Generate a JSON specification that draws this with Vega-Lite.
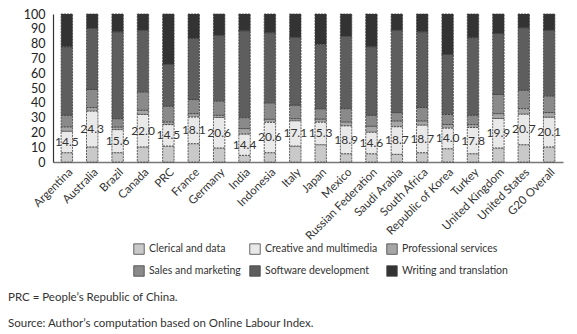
{
  "$schema": "https://vega.github.io/schema/vega-lite/v6.json",
  "autosize": "none",
  "width": 510,
  "height": 148,
  "padding": {"left": 53, "top": 14, "right": 14, "bottom": 172},
  "background": "white",
  "config": {
    "font": "Lato",
    "view": {"stroke": null},
    "axisY": {
      "title": null,
      "values": [0, 10, 20, 30, 40, 50, 60, 70, 80, 90, 100],
      "labelOverlap": false,
      "grid": false,
      "ticks": false,
      "labelFontSize": 12.5,
      "labelColor": "#222",
      "labelFont": "Lato",
      "labelPadding": 8,
      "domainColor": "#333",
      "domainWidth": 1.2
    }
  },
  "title": {
    "text": ["PRC = People’s Republic of China.", "Source: Author’s computation based on Online Labour Index."],
    "orient": "bottom",
    "anchor": "start",
    "frame": "group",
    "dx": -45,
    "offset": 14,
    "fontSize": 11.5,
    "fontWeight": "normal",
    "color": "#333",
    "lineHeight": 26,
    "font": "Lato"
  },
  "data": {
    "values": [
      {"country": "Argentina", "category": "Clerical and data", "value": 6.3},
      {"country": "Argentina", "category": "Creative and multimedia", "value": 14.5},
      {"country": "Argentina", "category": "Professional services", "value": 3.0},
      {"country": "Argentina", "category": "Sales and marketing", "value": 7.8},
      {"country": "Argentina", "category": "Software development", "value": 46.3},
      {"country": "Argentina", "category": "Writing and translation", "value": 22.1},
      {"country": "Australia", "category": "Clerical and data", "value": 10.2},
      {"country": "Australia", "category": "Creative and multimedia", "value": 24.3},
      {"country": "Australia", "category": "Professional services", "value": 2.3},
      {"country": "Australia", "category": "Sales and marketing", "value": 12.2},
      {"country": "Australia", "category": "Software development", "value": 41.3},
      {"country": "Australia", "category": "Writing and translation", "value": 9.7},
      {"country": "Brazil", "category": "Clerical and data", "value": 6.3},
      {"country": "Brazil", "category": "Creative and multimedia", "value": 15.6},
      {"country": "Brazil", "category": "Professional services", "value": 1.8},
      {"country": "Brazil", "category": "Sales and marketing", "value": 5.6},
      {"country": "Brazil", "category": "Software development", "value": 58.7},
      {"country": "Brazil", "category": "Writing and translation", "value": 12.0},
      {"country": "Canada", "category": "Clerical and data", "value": 10.2},
      {"country": "Canada", "category": "Creative and multimedia", "value": 22.0},
      {"country": "Canada", "category": "Professional services", "value": 2.8},
      {"country": "Canada", "category": "Sales and marketing", "value": 12.4},
      {"country": "Canada", "category": "Software development", "value": 41.8},
      {"country": "Canada", "category": "Writing and translation", "value": 10.8},
      {"country": "PRC", "category": "Clerical and data", "value": 10.8},
      {"country": "PRC", "category": "Creative and multimedia", "value": 14.5},
      {"country": "PRC", "category": "Professional services", "value": 1.8},
      {"country": "PRC", "category": "Sales and marketing", "value": 10.6},
      {"country": "PRC", "category": "Software development", "value": 28.4},
      {"country": "PRC", "category": "Writing and translation", "value": 33.9},
      {"country": "France", "category": "Clerical and data", "value": 12.4},
      {"country": "France", "category": "Creative and multimedia", "value": 18.1},
      {"country": "France", "category": "Professional services", "value": 2.2},
      {"country": "France", "category": "Sales and marketing", "value": 9.5},
      {"country": "France", "category": "Software development", "value": 41.3},
      {"country": "France", "category": "Writing and translation", "value": 16.5},
      {"country": "Germany", "category": "Clerical and data", "value": 9.5},
      {"country": "Germany", "category": "Creative and multimedia", "value": 20.6},
      {"country": "Germany", "category": "Professional services", "value": 1.5},
      {"country": "Germany", "category": "Sales and marketing", "value": 9.7},
      {"country": "Germany", "category": "Software development", "value": 44.5},
      {"country": "Germany", "category": "Writing and translation", "value": 14.2},
      {"country": "India", "category": "Clerical and data", "value": 4.5},
      {"country": "India", "category": "Creative and multimedia", "value": 14.4},
      {"country": "India", "category": "Professional services", "value": 3.7},
      {"country": "India", "category": "Sales and marketing", "value": 7.4},
      {"country": "India", "category": "Software development", "value": 58.7},
      {"country": "India", "category": "Writing and translation", "value": 11.3},
      {"country": "Indonesia", "category": "Clerical and data", "value": 6.3},
      {"country": "Indonesia", "category": "Creative and multimedia", "value": 20.6},
      {"country": "Indonesia", "category": "Professional services", "value": 2.0},
      {"country": "Indonesia", "category": "Sales and marketing", "value": 11.1},
      {"country": "Indonesia", "category": "Software development", "value": 47.4},
      {"country": "Indonesia", "category": "Writing and translation", "value": 12.6},
      {"country": "Italy", "category": "Clerical and data", "value": 10.8},
      {"country": "Italy", "category": "Creative and multimedia", "value": 17.1},
      {"country": "Italy", "category": "Professional services", "value": 1.4},
      {"country": "Italy", "category": "Sales and marketing", "value": 9.1},
      {"country": "Italy", "category": "Software development", "value": 45.8},
      {"country": "Italy", "category": "Writing and translation", "value": 15.8},
      {"country": "Japan", "category": "Clerical and data", "value": 11.7},
      {"country": "Japan", "category": "Creative and multimedia", "value": 15.3},
      {"country": "Japan", "category": "Professional services", "value": 2.0},
      {"country": "Japan", "category": "Sales and marketing", "value": 7.0},
      {"country": "Japan", "category": "Software development", "value": 43.6},
      {"country": "Japan", "category": "Writing and translation", "value": 20.4},
      {"country": "Mexico", "category": "Clerical and data", "value": 5.6},
      {"country": "Mexico", "category": "Creative and multimedia", "value": 18.9},
      {"country": "Mexico", "category": "Professional services", "value": 2.6},
      {"country": "Mexico", "category": "Sales and marketing", "value": 9.0},
      {"country": "Mexico", "category": "Software development", "value": 49.0},
      {"country": "Mexico", "category": "Writing and translation", "value": 14.9},
      {"country": "Russian Federation", "category": "Clerical and data", "value": 5.6},
      {"country": "Russian Federation", "category": "Creative and multimedia", "value": 14.6},
      {"country": "Russian Federation", "category": "Professional services", "value": 4.0},
      {"country": "Russian Federation", "category": "Sales and marketing", "value": 7.4},
      {"country": "Russian Federation", "category": "Software development", "value": 46.3},
      {"country": "Russian Federation", "category": "Writing and translation", "value": 22.1},
      {"country": "Saudi Arabia", "category": "Clerical and data", "value": 5.2},
      {"country": "Saudi Arabia", "category": "Creative and multimedia", "value": 18.7},
      {"country": "Saudi Arabia", "category": "Professional services", "value": 3.9},
      {"country": "Saudi Arabia", "category": "Sales and marketing", "value": 5.6},
      {"country": "Saudi Arabia", "category": "Software development", "value": 55.8},
      {"country": "Saudi Arabia", "category": "Writing and translation", "value": 10.8},
      {"country": "South Africa", "category": "Clerical and data", "value": 6.3},
      {"country": "South Africa", "category": "Creative and multimedia", "value": 18.7},
      {"country": "South Africa", "category": "Professional services", "value": 2.8},
      {"country": "South Africa", "category": "Sales and marketing", "value": 9.0},
      {"country": "South Africa", "category": "Software development", "value": 51.2},
      {"country": "South Africa", "category": "Writing and translation", "value": 12.0},
      {"country": "Republic of Korea", "category": "Clerical and data", "value": 9.0},
      {"country": "Republic of Korea", "category": "Creative and multimedia", "value": 14.0},
      {"country": "Republic of Korea", "category": "Professional services", "value": 2.3},
      {"country": "Republic of Korea", "category": "Sales and marketing", "value": 6.8},
      {"country": "Republic of Korea", "category": "Software development", "value": 40.6},
      {"country": "Republic of Korea", "category": "Writing and translation", "value": 27.3},
      {"country": "Turkey", "category": "Clerical and data", "value": 5.6},
      {"country": "Turkey", "category": "Creative and multimedia", "value": 17.8},
      {"country": "Turkey", "category": "Professional services", "value": 1.9},
      {"country": "Turkey", "category": "Sales and marketing", "value": 6.3},
      {"country": "Turkey", "category": "Software development", "value": 52.4},
      {"country": "Turkey", "category": "Writing and translation", "value": 16.0},
      {"country": "United Kingdom", "category": "Clerical and data", "value": 9.5},
      {"country": "United Kingdom", "category": "Creative and multimedia", "value": 19.9},
      {"country": "United Kingdom", "category": "Professional services", "value": 3.3},
      {"country": "United Kingdom", "category": "Sales and marketing", "value": 12.9},
      {"country": "United Kingdom", "category": "Software development", "value": 41.3},
      {"country": "United Kingdom", "category": "Writing and translation", "value": 13.1},
      {"country": "United States", "category": "Clerical and data", "value": 11.7},
      {"country": "United States", "category": "Creative and multimedia", "value": 20.7},
      {"country": "United States", "category": "Professional services", "value": 3.7},
      {"country": "United States", "category": "Sales and marketing", "value": 12.4},
      {"country": "United States", "category": "Software development", "value": 42.2},
      {"country": "United States", "category": "Writing and translation", "value": 9.3},
      {"country": "G20 Overall", "category": "Clerical and data", "value": 10.2},
      {"country": "G20 Overall", "category": "Creative and multimedia", "value": 20.1},
      {"country": "G20 Overall", "category": "Professional services", "value": 3.1},
      {"country": "G20 Overall", "category": "Sales and marketing", "value": 11.3},
      {"country": "G20 Overall", "category": "Software development", "value": 44.5},
      {"country": "G20 Overall", "category": "Writing and translation", "value": 10.8}
    ]
  },
  "transform": [
    {"calculate": "indexof(['Clerical and data','Creative and multimedia','Professional services','Sales and marketing','Software development','Writing and translation'], datum.category)", "as": "ord"}
  ],
  "encoding": {
    "x": {
      "field": "country",
      "type": "nominal",
      "sort": null,
      "scale": {"paddingInner": 0.55, "paddingOuter": 0.32},
      "axis": {
        "title": null,
        "labelAngle": -45,
        "labelFontSize": 11.5,
        "labelColor": "#333",
        "labelFont": "Lato",
        "ticks": false,
        "labelPadding": 4,
        "domainColor": "#777",
        "domainWidth": 1.5
      }
    }
  },
  "layer": [
    {
      "mark": {"type": "bar", "stroke": "#3a3a3a", "strokeWidth": 0.8, "strokeDash": [2, 1]},
      "encoding": {
        "y": {
          "field": "value",
          "type": "quantitative",
          "stack": "zero",
          "scale": {"domain": [0, 100], "nice": false},
          "axis": {
            "values": [0, 10, 20, 30, 40, 50, 60, 70, 80, 90, 100],
            "labelOverlap": false
          }
        },
        "order": {"field": "ord", "type": "quantitative"},
        "color": {
          "field": "category",
          "type": "nominal",
          "scale": {
            "domain": ["Clerical and data", "Creative and multimedia", "Professional services", "Sales and marketing", "Software development", "Writing and translation"],
            "range": ["#c9c9c9", "#e9e9e9", "#a6a6a6", "#8a8a8a", "#5e5e5e", "#333333"]
          },
          "legend": {
            "title": null,
            "orient": "none",
            "legendX": 80,
            "legendY": 229,
            "direction": "horizontal",
            "columns": 3,
            "columnPadding": 7,
            "rowPadding": 8,
            "symbolType": "square",
            "symbolSize": 110,
            "symbolStrokeColor": "#444",
            "symbolStrokeWidth": 0.8,
            "symbolOpacity": 1,
            "labelFontSize": 10.5,
            "labelColor": "#333",
            "labelFont": "Lato",
            "labelLimit": 300
          }
        }
      }
    },
    {
      "transform": [
        {"stack": "value", "groupby": ["country"], "sort": [{"field": "ord", "order": "ascending"}], "as": ["v0", "v1"]},
        {"filter": "datum.category === 'Creative and multimedia'"},
        {"calculate": "(datum.v0 + datum.v1) / 2", "as": "mid"}
      ],
      "mark": {"type": "text", "fontSize": 12, "color": "#333", "font": "Lato", "baseline": "middle"},
      "encoding": {
        "y": {
          "field": "mid",
          "type": "quantitative",
          "axis": {
            "values": [0, 10, 20, 30, 40, 50, 60, 70, 80, 90, 100],
            "labelOverlap": false
          }
        },
        "text": {"field": "value", "type": "quantitative", "format": ".1f"}
      }
    }
  ]
}
